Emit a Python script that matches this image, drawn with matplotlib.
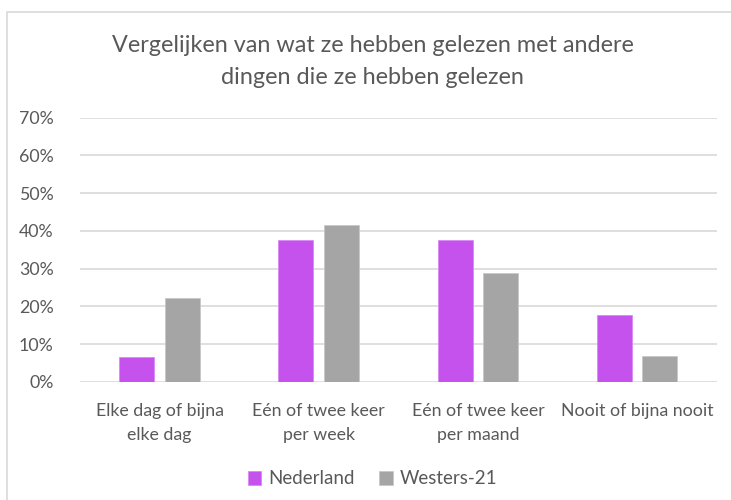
import matplotlib.pyplot as plt
import matplotlib.patches as mpatches
import numpy as np

categories = ["Elke dag of bijna\nelke dag", "Eén of twee keer\nper week",
              "Eén of twee keer\nper maand", "Nooit of bijna nooit"]
nederland = [6.5, 37.7, 37.5, 17.7]
westers = [22.3, 41.5, 29.0, 6.8]
series_names = ["Nederland", "Westers-21"]
title = "Vergelijken van wat ze hebben gelezen met andere\ndingen die ze hebben gelezen"

purple = "#C652EE"
grey = "#A5A5A5"
txt = "#595959"

plt.rcParams['font.family'] = ['Lato', 'DejaVu Sans']

fig = plt.figure(figsize=(7.31, 5), dpi=100)
ax = fig.add_axes([0.1094, 0.236, 0.871, 0.5286])

# chart frame
fig.patches.append(mpatches.Rectangle((7 / 731, -0.05), 1.05, 1 - 12 / 500 + 0.05,
                                      transform=fig.transFigure, fill=False,
                                      edgecolor="#D9D9D9", linewidth=1.2))

x = np.arange(len(categories))
w = 0.22
off = 0.143
ax.bar(x - off, nederland, w, color=purple, edgecolor="#D98AF5", linewidth=0.6, label=series_names[0], zorder=3)
ax.bar(x + off, westers, w, color=grey, edgecolor="#C8C8C8", linewidth=0.6, label=series_names[1], zorder=3)

ax.set_xlim(-0.5, 3.5)
ax.set_ylim(0, 70)
ax.set_yticks(range(0, 71, 10))
ax.set_yticklabels([f"{v}%" for v in range(0, 71, 10)])
ax.set_xticks(x)
ax.set_xticklabels(categories, linespacing=1.6)
ax.yaxis.grid(True, color="#D9D9D9", linewidth=1.2, zorder=0)
ax.set_axisbelow(True)
for s in ax.spines.values():
    s.set_visible(False)
ax.tick_params(axis='both', length=0, labelsize=12.8, colors=txt)
ax.tick_params(axis='y', pad=19)
ax.tick_params(axis='x', pad=15)

fig.text(0.51, 0.877, title, ha='center', va='center', fontsize=16.8,
         color=txt, linespacing=1.6)

fig.legend(loc='center', bbox_to_anchor=(0.51, 0.042), ncol=2, frameon=False,
           fontsize=13.5, labelcolor=txt, handlelength=0.7, handleheight=0.7,
           handletextpad=0.4, columnspacing=1.3)

fig.savefig("out.png", dpi=100)
